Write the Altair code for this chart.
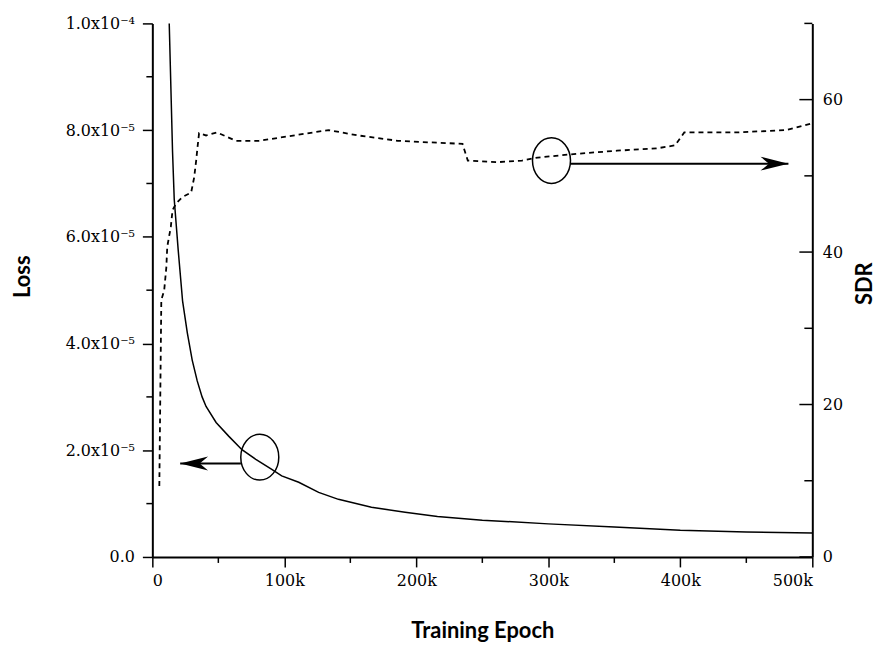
import altair as alt
import pandas as pd

# ---- data ----
loss_epoch = [11000, 12800, 15300, 16600, 19600, 22900, 26500, 30200, 34000, 37700,
              40700, 48300, 58000, 67900, 78400, 90500, 98000, 110900, 126000, 141000,
              166000, 191500, 216000, 250000, 300000, 350000, 400000, 450000, 500000]
loss_value = [1.25e-4, 1.0e-4, 7.6e-5, 6.7e-5, 5.75e-5, 4.8e-5, 4.2e-5, 3.69e-5, 3.3e-5, 3.0e-5,
              2.82e-5, 2.52e-5, 2.26e-5, 2.01e-5, 1.83e-5, 1.64e-5, 1.52e-5, 1.40e-5, 1.21e-5, 1.08e-5,
              9.3e-6, 8.4e-6, 7.6e-6, 6.9e-6, 6.2e-6, 5.6e-6, 5.0e-6, 4.7e-6, 4.5e-6]

sdr_epoch = [5300, 6800, 9000, 10600, 11300, 14000, 15300, 18100, 22600, 29400,
             31700, 33200, 34200, 35400, 40700, 49000, 63300, 80700, 110900, 133500,
             156000, 186000, 209000, 235000, 239000, 262000, 280000, 292000, 322000, 352000,
             382000, 396000, 403000, 443000, 480000, 500000]
sdr_value = [9.3, 33.7, 35.0, 38.0, 40.7, 43.3, 45.5, 46.4, 47.2, 47.8,
             49.8, 52.0, 53.7, 55.6, 55.3, 55.7, 54.6, 54.6, 55.4, 56.0,
             55.3, 54.6, 54.4, 54.2, 52.0, 51.8, 52.0, 52.4, 52.9, 53.3,
             53.6, 54.0, 55.7, 55.7, 56.0, 56.9]

x_ticks = [0, 100000, 200000, 300000, 400000, 500000]
x_labels = ["0", "100k", "200k", "300k", "400k", "500k"]
x_minor = [50000, 150000, 250000, 350000, 450000]

loss_ticks = [0, 2, 4, 6, 8, 10]          # in units of 1e-5
loss_labels = ["0.0", "2.0x10\u207b\u2075", "4.0x10\u207b\u2075", "6.0x10\u207b\u2075",
               "8.0x10\u207b\u2075", "1.0x10\u207b\u2074"]
loss_minor = [1, 3, 5, 7, 9]               # in units of 1e-5

sdr_ticks = [0, 20, 40, 60]
sdr_minor = [10, 30, 50, 70]

# annotations (ellipse + arrow) in data units
loss_ellipse_epoch = [81400]
loss_ellipse_value = [1.87e-5]
loss_arrow_from = [67100]
loss_arrow_to = [21100]
loss_arrow_value = [1.75e-5]

sdr_ellipse_epoch = [302400]
sdr_ellipse_value = [52.0]
sdr_arrow_from = [316700]
sdr_arrow_to = [481900]
sdr_arrow_value = [51.6]

# ---- tables (loss expressed in units of 1e-5 for the scale) ----
loss_df = pd.DataFrame({"epoch": loss_epoch, "loss": [v * 1e5 for v in loss_value]})
sdr_df = pd.DataFrame({"epoch": sdr_epoch, "sdr": sdr_value})
xminor_df = pd.DataFrame({"epoch": x_minor})
lminor_df = pd.DataFrame({"loss": loss_minor})
smajor_df = pd.DataFrame({"sdr": sdr_ticks})
sminor_df = pd.DataFrame({"sdr": sdr_minor})
lell_df = pd.DataFrame({"epoch": loss_ellipse_epoch, "loss": [v * 1e5 for v in loss_ellipse_value]})
larr_df = pd.DataFrame({"epoch": loss_arrow_from, "epoch2": loss_arrow_to,
                        "loss": [v * 1e5 for v in loss_arrow_value]})
sell_df = pd.DataFrame({"epoch": sdr_ellipse_epoch, "sdr": sdr_ellipse_value})
sarr_df = pd.DataFrame({"epoch": sdr_arrow_from, "epoch2": sdr_arrow_to, "sdr": sdr_arrow_value})


def label_expr(values, labels):
    expr = "''"
    for v, l in reversed(list(zip(values, labels))):
        expr = f"(datum.value == {v} ? '{l}' : {expr})"
    return expr


x_scale = alt.Scale(domain=[0, 500000], nice=False, zero=False)
loss_scale = alt.Scale(domain=[0, 10], nice=False)
sdr_scale = alt.Scale(domain=[0, 70], nice=False)

x_axis = alt.Axis(orient="bottom", values=x_ticks, labelExpr=label_expr(x_ticks, x_labels),
                  tickSize=10, labelPadding=6, title="Training Epoch",
                  titleY=74, titleBaseline="middle")
loss_axis = alt.Axis(orient="left", values=loss_ticks,
                     labelExpr=label_expr(loss_ticks, loss_labels),
                     tickSize=10, labelPadding=8, title="Loss",
                     titleAngle=270, titleX=-130, titleY=254,
                     titleAlign="center", titleBaseline="middle")
sdr_axis = alt.Axis(orient="right", values=sdr_ticks, ticks=False,
                    labelPadding=10, title="SDR",
                    titleAngle=270, titleX=52, titleY=261,
                    titleAlign="center", titleBaseline="middle")

ellipse_path = "M0,-1A0.83,1,0,1,1,0,1A0.83,1,0,1,1,0,-1Z"
head_left = "M0,0L2,-0.5L1.4,0L2,0.5Z"
head_right = "M0,0L-2,-0.5L-1.4,0L-2,0.5Z"

X = alt.X("epoch:Q", scale=x_scale, axis=x_axis)
X2h = alt.X("epoch2:Q", scale=x_scale, axis=x_axis)
Yl = alt.Y("loss:Q", scale=loss_scale, axis=None)
Ys = alt.Y("sdr:Q", scale=sdr_scale, axis=None)

loss_line = alt.Chart(loss_df).mark_line(color="black", strokeWidth=1.5, clip=True).encode(
    x=X, y=alt.Y("loss:Q", scale=loss_scale, axis=loss_axis))
sdr_line = alt.Chart(sdr_df).mark_line(color="black", strokeWidth=1.8, strokeDash=[5, 4]).encode(
    x=X, y=alt.Y("sdr:Q", scale=sdr_scale, axis=sdr_axis))

loss_minor_ticks = alt.Chart(lminor_df).mark_rule(color="black", strokeWidth=1.5).encode(
    y=Yl, x=alt.value(-6), x2=alt.value(0))
x_minor_ticks = alt.Chart(xminor_df).mark_rule(color="black", strokeWidth=1.5).encode(
    x=X, y=alt.value(536), y2=alt.value(542))
loss_ellipse = alt.Chart(lell_df).mark_point(
    shape=ellipse_path, size=2116, filled=False, color="black", strokeWidth=1.5, opacity=1).encode(
    x=X, y=Yl)
loss_shaft = alt.Chart(larr_df).mark_rule(color="black", strokeWidth=2).encode(
    x=X, x2="epoch2:Q", y=Yl)
loss_head = alt.Chart(larr_df).mark_point(
    shape=head_left, size=784, filled=True, color="black", opacity=1).encode(
    x=X2h, y=Yl)

sdr_major_ticks = alt.Chart(smajor_df).mark_rule(color="black", strokeWidth=1.5).encode(
    y=Ys, x=alt.value(650), x2=alt.value(663))
sdr_minor_ticks = alt.Chart(sminor_df).mark_rule(color="black", strokeWidth=1.5).encode(
    y=Ys, x=alt.value(655), x2=alt.value(663))
sdr_ellipse = alt.Chart(sell_df).mark_point(
    shape=ellipse_path, size=2116, filled=False, color="black", strokeWidth=1.5, opacity=1).encode(
    x=X, y=Ys)
sdr_shaft = alt.Chart(sarr_df).mark_rule(color="black", strokeWidth=2).encode(
    x=X, x2="epoch2:Q", y=Ys)
sdr_head = alt.Chart(sarr_df).mark_point(
    shape=head_right, size=784, filled=True, color="black", opacity=1).encode(
    x=X2h, y=Ys)

chart = alt.layer(
    loss_line, sdr_line,
    loss_minor_ticks, x_minor_ticks, loss_ellipse, loss_shaft, loss_head,
    sdr_major_ticks, sdr_minor_ticks, sdr_ellipse, sdr_shaft, sdr_head,
).resolve_scale(y="independent").properties(
    width=663, height=536,
    autosize="none",
    padding={"left": 145, "top": 14, "right": 68, "bottom": 94},
    background="white",
).configure_view(stroke=None).configure_axis(
    grid=False,
    domainColor="black", domainWidth=2,
    tickColor="black", tickWidth=1.5,
    labelColor="black", labelFont="DejaVu Serif", labelFontSize=16,
    titleColor="black", titleFont="Lato", titleFontSize=22, titleFontWeight="bold",
)

chart.save("out.html", embed_options={"renderer": "svg", "actions": False})
